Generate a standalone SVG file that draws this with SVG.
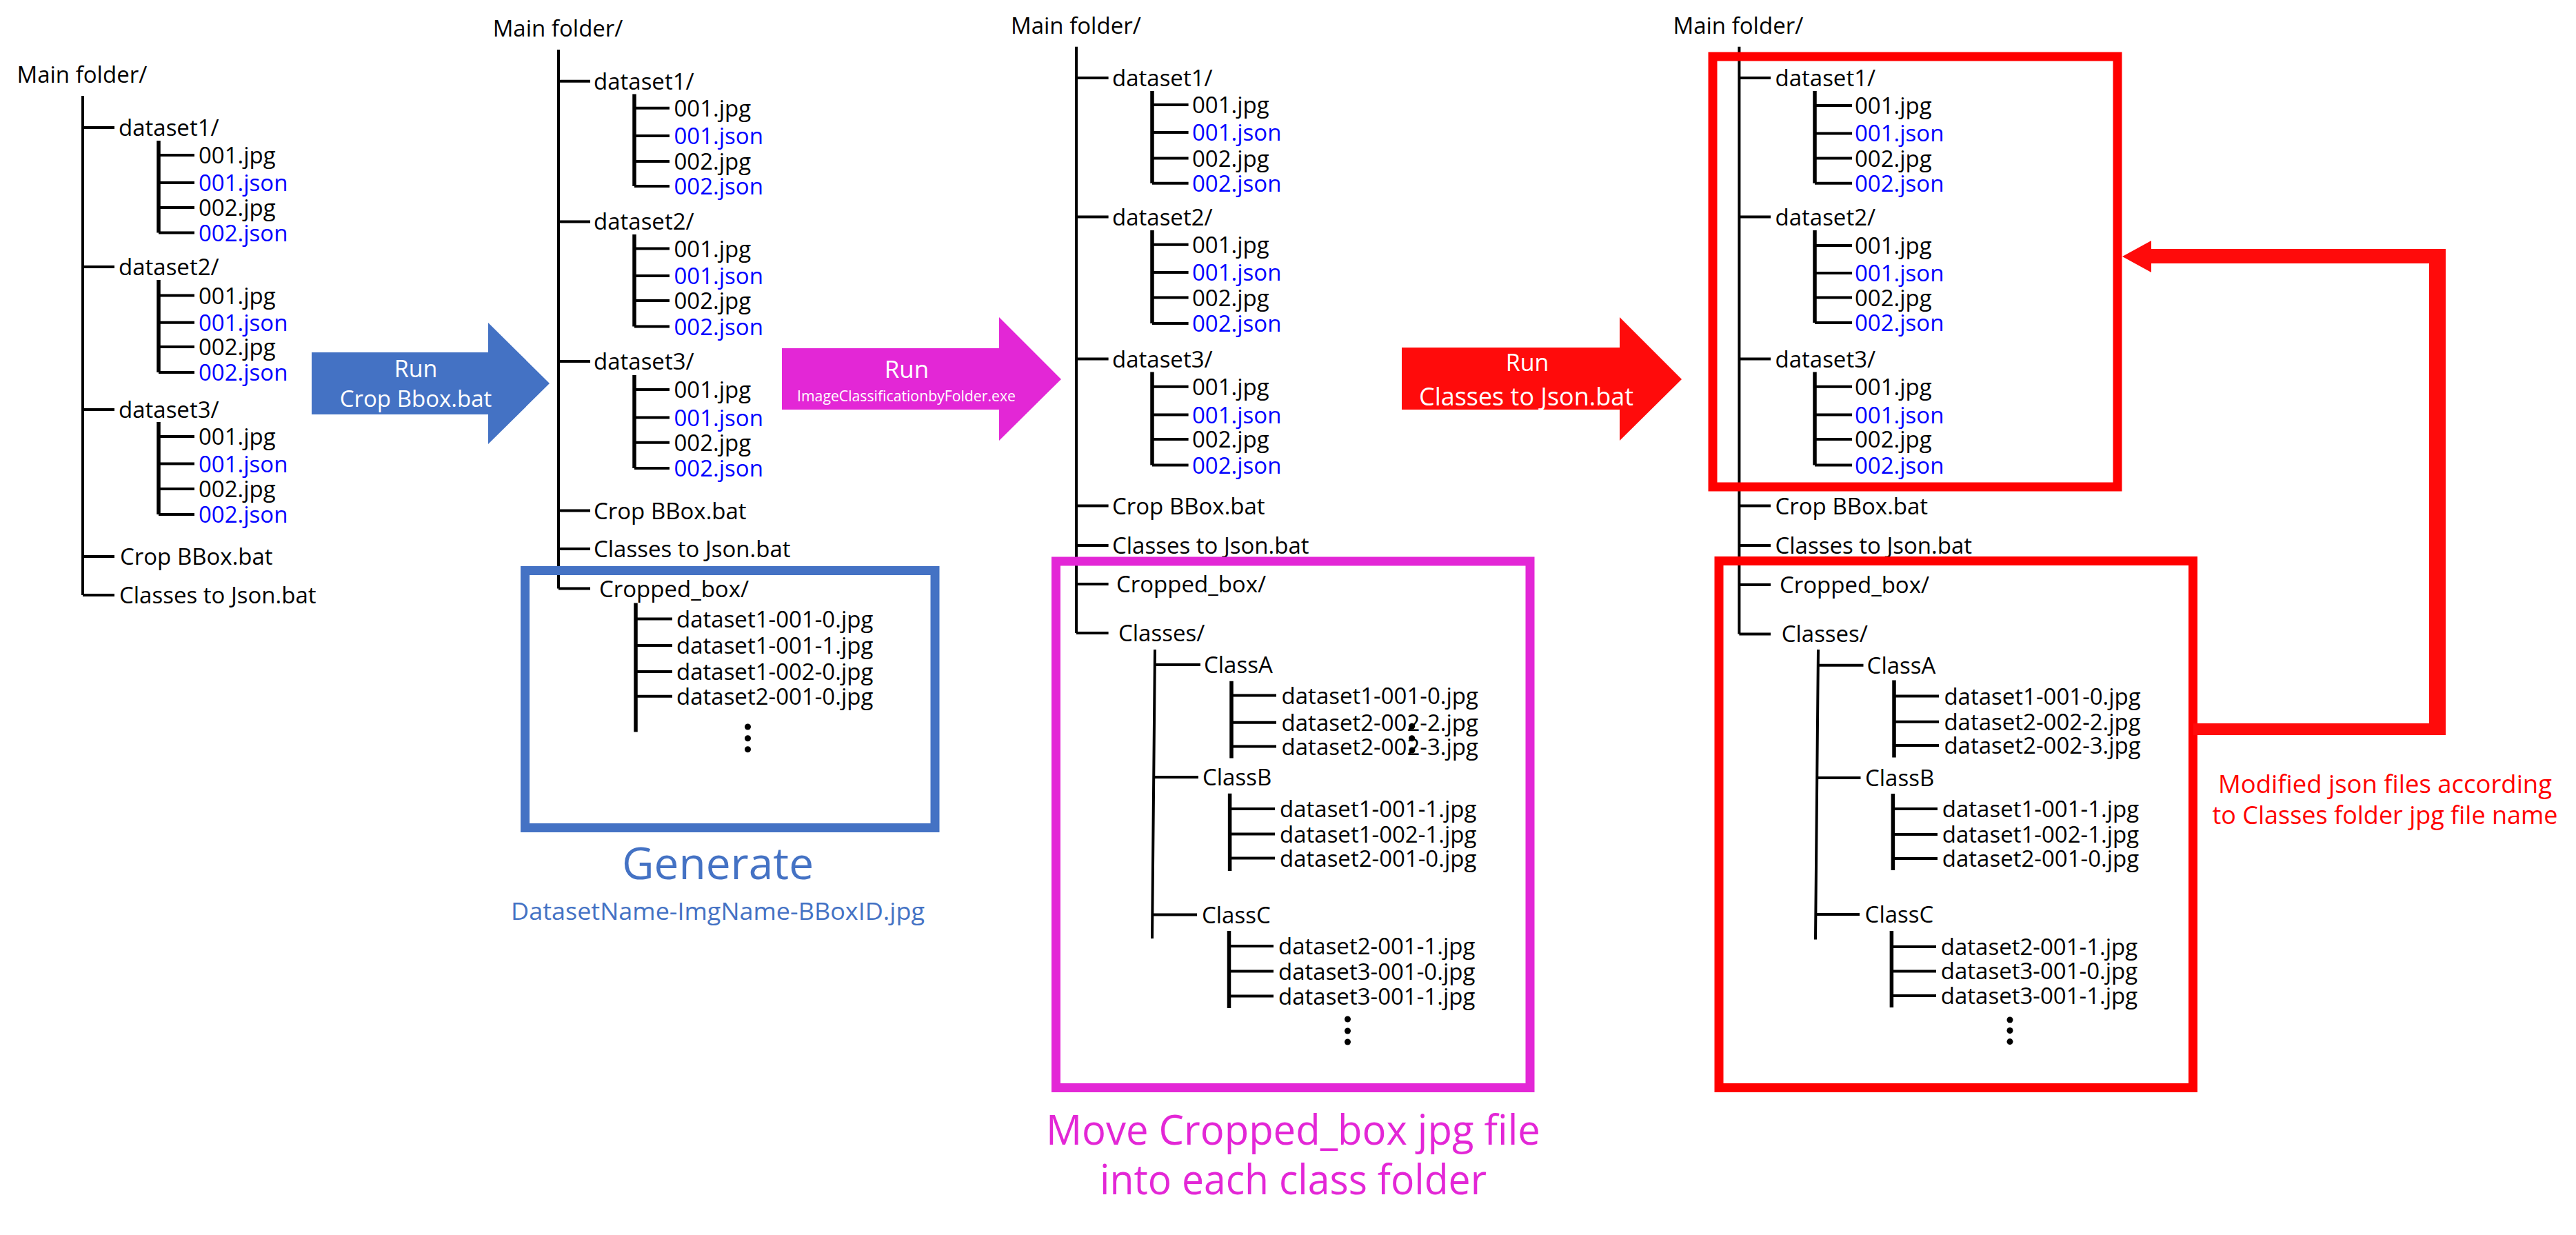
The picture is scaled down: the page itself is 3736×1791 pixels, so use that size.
<svg xmlns="http://www.w3.org/2000/svg" width="3736" height="1791" viewBox="0 0 3736 1791">
<style>
text{font-family:"Open Sans","DejaVu Sans",sans-serif;}
.t{font-size:33px;fill:#000}
.j{font-size:33px;fill:#0000FF}
.ln{stroke:#000;stroke-width:4;fill:none}
.sv{stroke:#000;stroke-width:5.5;fill:none}
.w{fill:#fff;text-anchor:middle}
.dot{fill:#000}
</style>
<rect width="3736" height="1791" fill="#fff"/>

<!-- ===== Tree 1 ===== -->
<g id="tree1-connectors">
<path class="ln" d="M120,139V863 M120,185H166 M120,387H166 M120,594H166 M120,807H166 M120,863H166"/>
<path class="sv" d="M230,204V337.5 M230,406V540 M230,612V746"/>
<path class="ln" d="M230,225H282 M230,265H282 M230,301H282 M230,337.5H282 M230,428.6H282 M230,467.7H282 M230,503H282 M230,540H282 M230,633H282 M230,672.6H282 M230,709H282 M230,746H282"/>
</g>
<g id="tree1-nodes">
<g id="t1-main"><text class="t" x="24.5" y="120">Main folder/</text></g>
<g id="t1-ds1"><text class="t" x="172" y="197">dataset1/</text></g>
<g id="t1-ds1-a"><text class="t" x="288" y="237">001.jpg</text></g>
<g id="t1-ds1-b"><text class="j" x="288" y="277">001.json</text></g>
<g id="t1-ds1-c"><text class="t" x="288" y="313">002.jpg</text></g>
<g id="t1-ds1-d"><text class="j" x="288" y="349.5">002.json</text></g>
<g id="t1-ds2"><text class="t" x="172" y="399">dataset2/</text></g>
<g id="t1-ds2-a"><text class="t" x="288" y="440.6">001.jpg</text></g>
<g id="t1-ds2-b"><text class="j" x="288" y="479.7">001.json</text></g>
<g id="t1-ds2-c"><text class="t" x="288" y="515">002.jpg</text></g>
<g id="t1-ds2-d"><text class="j" x="288" y="552">002.json</text></g>
<g id="t1-ds3"><text class="t" x="172" y="606">dataset3/</text></g>
<g id="t1-ds3-a"><text class="t" x="288" y="645">001.jpg</text></g>
<g id="t1-ds3-b"><text class="j" x="288" y="684.6">001.json</text></g>
<g id="t1-ds3-c"><text class="t" x="288" y="721">002.jpg</text></g>
<g id="t1-ds3-d"><text class="j" x="288" y="758">002.json</text></g>
<g id="t1-crop"><text class="t" x="174" y="819">Crop BBox.bat</text></g>
<g id="t1-cls"><text class="t" x="173" y="875">Classes to Json.bat</text></g>
</g>

<!-- ===== Arrow 1 (blue) ===== -->
<g id="arrow-run-crop">
<polygon points="452,511 708,511 708,468 797,556 708,644 708,601 452,601" fill="#4472C4"/>
<text class="w" x="603" y="547" font-size="34">Run</text>
<text class="w" x="603" y="590" font-size="33">Crop Bbox.bat</text>
</g>

<!-- ===== Tree 2 ===== -->
<g id="tree2-connectors">
<path class="ln" d="M810,72V853.5 M810,117.7H856 M810,321.4H856 M810,524H856 M810,740.5H856 M810,796H856 M810,853.5H856"/>
<path class="sv" d="M920,136.6V270 M920,340V473.5 M920,544V679 M922,874.6V1061.4"/>
<path class="ln" d="M920,156.7H971 M920,197H971 M920,234H971 M920,270H971 M920,360.5H971 M920,400H971 M920,436H971 M920,473.5H971 M920,565H971 M920,605.6H971 M920,641.7H971 M920,679H971 M922,897.6H975 M922,935.9H975 M922,974H975 M922,1009.7H975"/>
</g>
<g id="tree2-nodes">
<g id="t2-main"><text class="t" x="714.7" y="52.8">Main folder/</text></g>
<g id="t2-ds1"><text class="t" x="861" y="129.7">dataset1/</text></g>
<g id="t2-ds1-a"><text class="t" x="977.5" y="168.7">001.jpg</text></g>
<g id="t2-ds1-b"><text class="j" x="977.5" y="209">001.json</text></g>
<g id="t2-ds1-c"><text class="t" x="977.5" y="246">002.jpg</text></g>
<g id="t2-ds1-d"><text class="j" x="977.5" y="282">002.json</text></g>
<g id="t2-ds2"><text class="t" x="861" y="333.4">dataset2/</text></g>
<g id="t2-ds2-a"><text class="t" x="977.5" y="372.5">001.jpg</text></g>
<g id="t2-ds2-b"><text class="j" x="977.5" y="412">001.json</text></g>
<g id="t2-ds2-c"><text class="t" x="977.5" y="448">002.jpg</text></g>
<g id="t2-ds2-d"><text class="j" x="977.5" y="485.5">002.json</text></g>
<g id="t2-ds3"><text class="t" x="861" y="536">dataset3/</text></g>
<g id="t2-ds3-a"><text class="t" x="977.5" y="577">001.jpg</text></g>
<g id="t2-ds3-b"><text class="j" x="977.5" y="617.6">001.json</text></g>
<g id="t2-ds3-c"><text class="t" x="977.5" y="653.7">002.jpg</text></g>
<g id="t2-ds3-d"><text class="j" x="977.5" y="691">002.json</text></g>
<g id="t2-crop"><text class="t" x="861" y="752.5">Crop BBox.bat</text></g>
<g id="t2-cls"><text class="t" x="861" y="808">Classes to Json.bat</text></g>
<g id="t2-cropped"><text class="t" x="869" y="865.5">Cropped_box/</text></g>
<g id="t2-cb-a"><text class="t" x="981" y="909.6">dataset1-001-0.jpg</text></g>
<g id="t2-cb-b"><text class="t" x="981" y="947.9">dataset1-001-1.jpg</text></g>
<g id="t2-cb-c"><text class="t" x="981" y="986">dataset1-002-0.jpg</text></g>
<g id="t2-cb-d"><text class="t" x="981" y="1021.7">dataset2-001-0.jpg</text></g>
<g id="t2-dots"><circle class="dot" cx="1084.5" cy="1054" r="4.5"/><circle class="dot" cx="1084.5" cy="1070.7" r="4.5"/><circle class="dot" cx="1084.5" cy="1086.7" r="4.5"/></g>
</g>
<g id="box-blue"><rect x="761.5" y="827.5" width="594.5" height="373" fill="none" stroke="#4472C4" stroke-width="13"/></g>
<g id="caption-generate">
<text x="1041" y="1274.6" font-size="64" fill="#4472C4" text-anchor="middle">Generate</text>
<text x="1041" y="1334" font-size="35" fill="#4472C4" text-anchor="middle" textLength="600" lengthAdjust="spacingAndGlyphs">DatasetName-ImgName-BBoxID.jpg</text>
</g>

<!-- ===== Arrow 2 (magenta) ===== -->
<g id="arrow-run-classify">
<polygon points="1134,505 1449,505 1449,460 1539,550 1449,639 1449,594 1134,594" fill="#E327D6"/>
<text class="w" x="1315" y="548" font-size="35">Run</text>
<text class="w" x="1314.5" y="582" font-size="21" textLength="317" lengthAdjust="spacingAndGlyphs">ImageClassificationbyFolder.exe</text>
</g>

<!-- ===== Tree 3 ===== -->
<g id="tree3-connectors">
<path class="ln" d="M1561,67.7V918 M1561,113H1607.6 M1561,314.6H1607.6 M1561,520.6H1607.6 M1561,733.6H1607.6 M1561,791H1607.6 M1561,847H1607.6 M1561,918H1607.6"/>
<path class="sv" d="M1671,132V265.8 M1671,334V469 M1671,539.6V674.5"/>
<path class="ln" d="M1671,152H1723.6 M1671,192H1723.6 M1671,229.6H1723.6 M1671,265.8H1723.6 M1671,354.7H1723.6 M1671,395H1723.6 M1671,431.6H1723.6 M1671,469H1723.6 M1671,560.8H1723.6 M1671,601.6H1723.6 M1671,637H1723.6 M1671,674.5H1723.6"/>
<path class="ln" d="M1675,942L1671,1361 M1675,964H1741 M1673,1127H1738 M1671.5,1326.5H1736"/>
<path class="sv" d="M1786,987.7V1099.6 M1783.6,1150.8V1263 M1782.5,1350V1462"/>
<path class="ln" d="M1786,1008.6H1851 M1786,1047.7H1851 M1786,1082.5H1851 M1783.6,1173H1849 M1783.6,1209.6H1849 M1783.6,1244.5H1849 M1782.5,1372H1847 M1782.5,1408.6H1847 M1782.5,1444.6H1847"/>
</g>
<g id="tree3-nodes">
<g id="t3-main"><text class="t" x="1466" y="48.8">Main folder/</text></g>
<g id="t3-ds1"><text class="t" x="1613" y="125">dataset1/</text></g>
<g id="t3-ds1-a"><text class="t" x="1729" y="164">001.jpg</text></g>
<g id="t3-ds1-b"><text class="j" x="1729" y="204">001.json</text></g>
<g id="t3-ds1-c"><text class="t" x="1729" y="241.6">002.jpg</text></g>
<g id="t3-ds1-d"><text class="j" x="1729" y="277.8">002.json</text></g>
<g id="t3-ds2"><text class="t" x="1613" y="326.6">dataset2/</text></g>
<g id="t3-ds2-a"><text class="t" x="1729" y="366.7">001.jpg</text></g>
<g id="t3-ds2-b"><text class="j" x="1729" y="407">001.json</text></g>
<g id="t3-ds2-c"><text class="t" x="1729" y="443.6">002.jpg</text></g>
<g id="t3-ds2-d"><text class="j" x="1729" y="481">002.json</text></g>
<g id="t3-ds3"><text class="t" x="1613" y="532.6">dataset3/</text></g>
<g id="t3-ds3-a"><text class="t" x="1729" y="572.8">001.jpg</text></g>
<g id="t3-ds3-b"><text class="j" x="1729" y="613.6">001.json</text></g>
<g id="t3-ds3-c"><text class="t" x="1729" y="649">002.jpg</text></g>
<g id="t3-ds3-d"><text class="j" x="1729" y="686.5">002.json</text></g>
<g id="t3-crop"><text class="t" x="1613" y="745.6">Crop BBox.bat</text></g>
<g id="t3-cls"><text class="t" x="1613" y="803">Classes to Json.bat</text></g>
<g id="t3-cropped"><text class="t" x="1619" y="859">Cropped_box/</text></g>
<g id="t3-classes"><text class="t" x="1622" y="930">Classes/</text></g>
<g id="t3-classA"><text class="t" x="1746" y="976">ClassA</text></g>
<g id="t3-A1"><text class="t" x="1858.6" y="1020.6">dataset1-001-0.jpg</text></g>
<g id="t3-A2"><text class="t" x="1858.6" y="1059.7">dataset2-002-2.jpg</text></g>
<g id="t3-A3"><text class="t" x="1858.6" y="1094.5">dataset2-002-3.jpg</text></g>
<g id="t3-stray"><circle class="dot" cx="2047.7" cy="1053.3" r="4.5"/><circle class="dot" cx="2047.7" cy="1070.7" r="4.5"/><circle class="dot" cx="2048" cy="1088" r="4.5"/></g>
<g id="t3-classB"><text class="t" x="1744" y="1139">ClassB</text></g>
<g id="t3-B1"><text class="t" x="1856" y="1185">dataset1-001-1.jpg</text></g>
<g id="t3-B2"><text class="t" x="1856" y="1221.6">dataset1-002-1.jpg</text></g>
<g id="t3-B3"><text class="t" x="1856" y="1256.5">dataset2-001-0.jpg</text></g>
<g id="t3-classC"><text class="t" x="1743" y="1338.5">ClassC</text></g>
<g id="t3-C1"><text class="t" x="1854" y="1384">dataset2-001-1.jpg</text></g>
<g id="t3-C2"><text class="t" x="1854" y="1420.6">dataset3-001-0.jpg</text></g>
<g id="t3-C3"><text class="t" x="1854" y="1456.6">dataset3-001-1.jpg</text></g>
<g id="t3-dots"><circle class="dot" cx="1954.5" cy="1478" r="4.5"/><circle class="dot" cx="1954.5" cy="1495" r="4.5"/><circle class="dot" cx="1954.5" cy="1511" r="4.5"/></g>
</g>
<g id="box-magenta"><rect x="1531.5" y="814" width="687.5" height="763.5" fill="none" stroke="#E327D6" stroke-width="13"/></g>
<g id="caption-move">
<text x="1875.4" y="1659.5" font-size="60" fill="#E327D6" text-anchor="middle" textLength="717" lengthAdjust="spacingAndGlyphs">Move Cropped_box jpg file</text>
<text x="1875.5" y="1732" font-size="60" fill="#E327D6" text-anchor="middle" textLength="561" lengthAdjust="spacingAndGlyphs">into each class folder</text>
</g>

<!-- ===== Arrow 3 (red) ===== -->
<g id="arrow-run-json">
<polygon points="2033,504 2349,504 2349,460 2439,550 2349,639 2349,594 2033,594" fill="#FF0B0B"/>
<text class="w" x="2215" y="538" font-size="34">Run</text>
<text class="w" x="2213.5" y="588" font-size="36" textLength="311" lengthAdjust="spacingAndGlyphs">Classes to Json.bat</text>
</g>

<!-- ===== Tree 4 ===== -->
<g id="tree4-connectors">
<path class="ln" d="M2522.4,67.7V919.4 M2522.4,113H2568 M2522.4,314.6H2568 M2522.4,520.6H2568 M2522.4,733.6H2568 M2522.4,791H2568 M2522.4,848H2568 M2522.4,919.4H2568"/>
<path class="sv" d="M2632,132V265.8 M2632,334V468 M2632,539.6V674.5"/>
<path class="ln" d="M2632,153H2686 M2632,193.4H2686 M2632,229.6H2686 M2632,265.8H2686 M2632,356H2686 M2632,396H2686 M2632,431.6H2686 M2632,468H2686 M2632,560.8H2686 M2632,601.6H2686 M2632,637H2686 M2632,674.5H2686"/>
<path class="ln" d="M2637,942L2633,1362.5 M2637,964.7H2702.5 M2635,1128H2698.5 M2634,1326H2697"/>
<path class="sv" d="M2747,986.6V1098.5 M2745.4,1151V1262 M2743.4,1350V1461"/>
<path class="ln" d="M2747,1009.5H2812 M2747,1046.8H2812 M2747,1081H2812 M2745.4,1173H2810 M2745.4,1210H2810 M2745.4,1245H2810 M2743.4,1373H2808 M2743.4,1408.4H2808 M2743.4,1444H2808"/>
</g>
<g id="tree4-nodes">
<g id="t4-main"><text class="t" x="2426.5" y="48.8">Main folder/</text></g>
<g id="t4-ds1"><text class="t" x="2574.5" y="125">dataset1/</text></g>
<g id="t4-ds1-a"><text class="t" x="2690" y="165">001.jpg</text></g>
<g id="t4-ds1-b"><text class="j" x="2690" y="205.4">001.json</text></g>
<g id="t4-ds1-c"><text class="t" x="2690" y="241.6">002.jpg</text></g>
<g id="t4-ds1-d"><text class="j" x="2690" y="277.8">002.json</text></g>
<g id="t4-ds2"><text class="t" x="2574.5" y="326.6">dataset2/</text></g>
<g id="t4-ds2-a"><text class="t" x="2690" y="368">001.jpg</text></g>
<g id="t4-ds2-b"><text class="j" x="2690" y="408">001.json</text></g>
<g id="t4-ds2-c"><text class="t" x="2690" y="443.6">002.jpg</text></g>
<g id="t4-ds2-d"><text class="j" x="2690" y="480">002.json</text></g>
<g id="t4-ds3"><text class="t" x="2574.5" y="532.6">dataset3/</text></g>
<g id="t4-ds3-a"><text class="t" x="2690" y="572.8">001.jpg</text></g>
<g id="t4-ds3-b"><text class="j" x="2690" y="613.6">001.json</text></g>
<g id="t4-ds3-c"><text class="t" x="2690" y="649">002.jpg</text></g>
<g id="t4-ds3-d"><text class="j" x="2690" y="686.5">002.json</text></g>
<g id="t4-crop"><text class="t" x="2574.5" y="745.6">Crop BBox.bat</text></g>
<g id="t4-cls"><text class="t" x="2574.5" y="803">Classes to Json.bat</text></g>
<g id="t4-cropped"><text class="t" x="2581" y="860">Cropped_box/</text></g>
<g id="t4-classes"><text class="t" x="2583.7" y="931.4">Classes/</text></g>
<g id="t4-classA"><text class="t" x="2707.6" y="976.7">ClassA</text></g>
<g id="t4-A1"><text class="t" x="2819.4" y="1021.5">dataset1-001-0.jpg</text></g>
<g id="t4-A2"><text class="t" x="2819.4" y="1058.8">dataset2-002-2.jpg</text></g>
<g id="t4-A3"><text class="t" x="2819.4" y="1093">dataset2-002-3.jpg</text></g>
<g id="t4-classB"><text class="t" x="2705" y="1140">ClassB</text></g>
<g id="t4-B1"><text class="t" x="2816.8" y="1185">dataset1-001-1.jpg</text></g>
<g id="t4-B2"><text class="t" x="2816.8" y="1222">dataset1-002-1.jpg</text></g>
<g id="t4-B3"><text class="t" x="2816.8" y="1257">dataset2-001-0.jpg</text></g>
<g id="t4-classC"><text class="t" x="2704.6" y="1338">ClassC</text></g>
<g id="t4-C1"><text class="t" x="2814.8" y="1385">dataset2-001-1.jpg</text></g>
<g id="t4-C2"><text class="t" x="2814.8" y="1420.4">dataset3-001-0.jpg</text></g>
<g id="t4-C3"><text class="t" x="2814.8" y="1456">dataset3-001-1.jpg</text></g>
<g id="t4-dots"><circle class="dot" cx="2915" cy="1479" r="4.5"/><circle class="dot" cx="2915" cy="1494.5" r="4.5"/><circle class="dot" cx="2915" cy="1510.6" r="4.5"/></g>
</g>
<g id="box-red-top"><rect x="2484" y="82" width="587" height="624" fill="none" stroke="#FF0000" stroke-width="13"/></g>
<g id="box-red-bottom"><rect x="2493" y="813.5" width="687.5" height="764" fill="none" stroke="#FF0000" stroke-width="13"/></g>

<!-- ===== Feedback connector ===== -->
<g id="connectors">
<polygon points="3181,1049 3523,1049 3523,382 3120,382 3120,395 3078,372 3120,349 3120,361 3547,361 3547,1066 3181,1066" fill="#FF0B0B"/>
</g>
<g id="caption-modified">
<text x="3459" y="1149.5" font-size="36" fill="#FF0000" text-anchor="middle" textLength="484" lengthAdjust="spacingAndGlyphs">Modified json files according</text>
<text x="3459" y="1195" font-size="36" fill="#FF0000" text-anchor="middle" textLength="501" lengthAdjust="spacingAndGlyphs">to Classes folder jpg file name</text>
</g>
</svg>
